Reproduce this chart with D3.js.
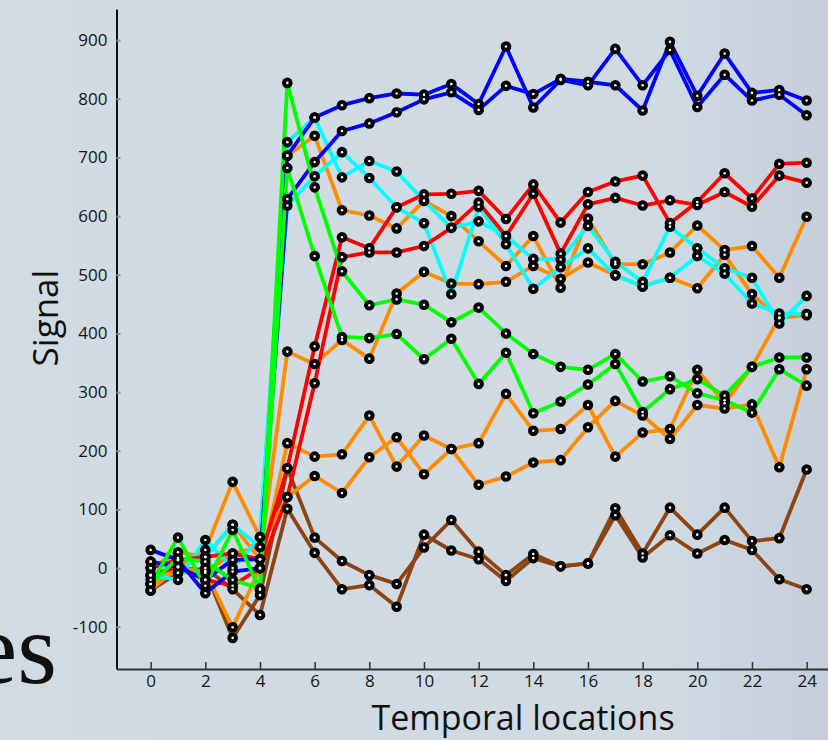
<!DOCTYPE html>
<html><head><meta charset="utf-8">
<script src="https://cdn.jsdelivr.net/npm/d3@7"></script>
<style>html,body{margin:0;padding:0;background:#d1dbe4;}svg{display:block}</style>
</head><body>
<svg id="c" width="828" height="740"></svg>
<script>
// Temporal locations (x categories)
const times = [0,1,2,3,4,5,6,7,8,9,10,11,12,13,14,15,16,17,18,19,20,21,22,23,24];
const xTicks = [0,2,4,6,8,10,12,14,16,18,20,22,24];
const yTicks = [-100,0,100,200,300,400,500,600,700,800,900];

// Series values (Signal)
const blue1   = [31,14,-43,-6,0, 703,768,789,801,809, 807,825,791,889,785, 832,823,885,823,883, 786,841,797,807,772];
const blue2   = [11,2,-20,14,15, 629,692,745,758,777, 799,811,781,822,808, 834,829,823,780,897, 805,877,810,815,797];
const cyan1   = [-12,-20,48,0,53, 726,768,666,694,676, 626,580,591,566,527, 526,583,522,488,582, 545,511,495,417,464];
const cyan2   = [-20,14,19,74,36, 618,668,709,665,615, 588,467,616,552,476, 513,545,499,480,495, 532,502,451,434,433];
const red1    = [0,14,19,25,15, 170,378,564,545,615, 637,638,643,595,654, 589,641,659,669,588, 624,673,630,689,691];
const red2    = [-12,2,-20,-30,0, 121,315,530,538,538, 549,580,623,566,638, 536,620,631,618,627, 619,641,616,669,657];
const orange1 = [-38,2,31,147,53, 703,737,610,601,579, 626,600,557,515,566, 478,596,518,518,538, 584,542,549,495,599];
const orange2 = [0,27,19,74,15, 369,348,389,357,468, 505,485,484,488,515, 493,521,499,480,495, 477,534,467,426,433];
const orange3 = [-12,-8,-5,-101,0, 213,190,194,260,173, 226,203,213,297,234, 237,278,190,231,237, 338,281,343,427,431];
const orange4 = [-27,2,-8,25,36, 121,157,128,189,223, 160,203,142,156,180, 184,240,285,260,220, 278,272,279,172,339];
const brown1  = [11,2,-5,-119,-46, 170,52,12,-12,-27, 35,82,28,-12,24, 3,8,102,25,103, 57,103,46,51,168];
const brown2  = [-38,-8,0,-36,-80, 101,26,-36,-29,-66, 57,30,15,-22,17, 3,8,90,18,56, 25,48,31,-19,-36];
const green1  = [-27,52,-30,65,-37, 827,649,506,448,458, 449,419,444,400,365, 343,338,365,318,327, 298,286,265,339,311];
const green2  = [-27,17,11,-20,-35, 682,532,394,392,399, 356,391,314,367,264, 284,313,348,266,305, 322,294,343,359,359];

const series = [
  {v: brown1, c: "#8b4513"}, {v: brown2, c: "#8b4513"},
  {v: orange1, c: "#ff8c00"}, {v: orange2, c: "#ff8c00"}, {v: orange3, c: "#ff8c00"}, {v: orange4, c: "#ff8c00"},
  {v: cyan1, c: "#00ffff"}, {v: cyan2, c: "#00ffff"},
  {v: red1, c: "#ff0000"}, {v: red2, c: "#ff0000"},
  {v: blue1, c: "#0000ff"}, {v: blue2, c: "#0000ff"},
  {v: green1, c: "#00ff00"}, {v: green2, c: "#00ff00"}
];

const svg = d3.select("#c");
const defs = svg.append("defs");
const g = defs.append("linearGradient").attr("id","bg").attr("x1","0").attr("x2","1").attr("y1","0").attr("y2","0");
g.append("stop").attr("offset","0").attr("stop-color","#d1dbe4");
g.append("stop").attr("offset","0.8").attr("stop-color","#d0dae3");
g.append("stop").attr("offset","1").attr("stop-color","#c5cfda");
svg.append("rect").attr("width",828).attr("height",740).attr("fill","url(#bg)");

// leftover slide text
svg.append("text").attr("x",57).attr("y",683).attr("text-anchor","end")
  .attr("font-family","Liberation Serif, serif").attr("font-size",102).attr("fill","#111").text("es");

const x = d3.scaleLinear().domain([-1.25, 25.25]).range([116.5, 840.8]);
const y = d3.scaleLinear().domain([-172, 953]).range([669, 9]);

const font = "Open Sans, sans-serif";

// y axis
const ya = svg.append("g").attr("transform","translate(116.5,0)")
  .call(d3.axisLeft(y).tickValues(yTicks).tickSize(-4).tickSizeOuter(0).tickPadding(9).tickFormat(d => String(d)));
ya.select(".domain").attr("stroke","#111").attr("stroke-width",2);
ya.selectAll(".tick line").attr("stroke","#8a8f96").attr("stroke-width",2);
ya.selectAll(".tick text").attr("font-family",font).attr("font-size",17).attr("fill","#151515");

// x axis
const xa = svg.append("g").attr("transform","translate(0,669)")
  .call(d3.axisBottom(x).tickValues(xTicks).tickSize(-7).tickSizeOuter(0).tickPadding(6).tickFormat(d => String(d)));
xa.select(".domain").attr("stroke","#333").attr("stroke-width",2);
xa.selectAll(".tick line").attr("stroke","#333").attr("stroke-width",1.5);
xa.selectAll(".tick text").attr("font-family",font).attr("font-size",17).attr("fill","#151515");

// lines
const line = d3.line().x((d,i) => x(times[i])).y(d => y(d));
svg.append("g").selectAll("path").data(series).join("path")
  .attr("d", s => line(s.v)).attr("fill","none").attr("stroke", s => s.c)
  .attr("stroke-width",3.8).attr("stroke-linejoin","round");

// markers
const pts = [];
series.forEach(s => s.v.forEach((v,i) => pts.push({x: times[i], y: v})));
const mk = svg.append("g");
mk.selectAll("circle.o").data(pts).join("circle").attr("class","o")
  .attr("cx", d => x(d.x)).attr("cy", d => y(d.y)).attr("r",5.3).attr("fill","#000");
mk.selectAll("circle.i").data(pts).join("circle").attr("class","i")
  .attr("cx", d => x(d.x)).attr("cy", d => y(d.y)).attr("r",1.3).attr("fill","#fff");

// titles
svg.append("text").attr("x",523).attr("y",730).attr("text-anchor","middle")
  .attr("font-family",font).attr("font-size",34).attr("fill","#111").text("Temporal locations");
svg.append("text").attr("transform","translate(58,318) rotate(-90)").attr("text-anchor","middle")
  .attr("font-family",font).attr("font-size",35).attr("fill","#111").text("Signal");
</script>
</body></html>
